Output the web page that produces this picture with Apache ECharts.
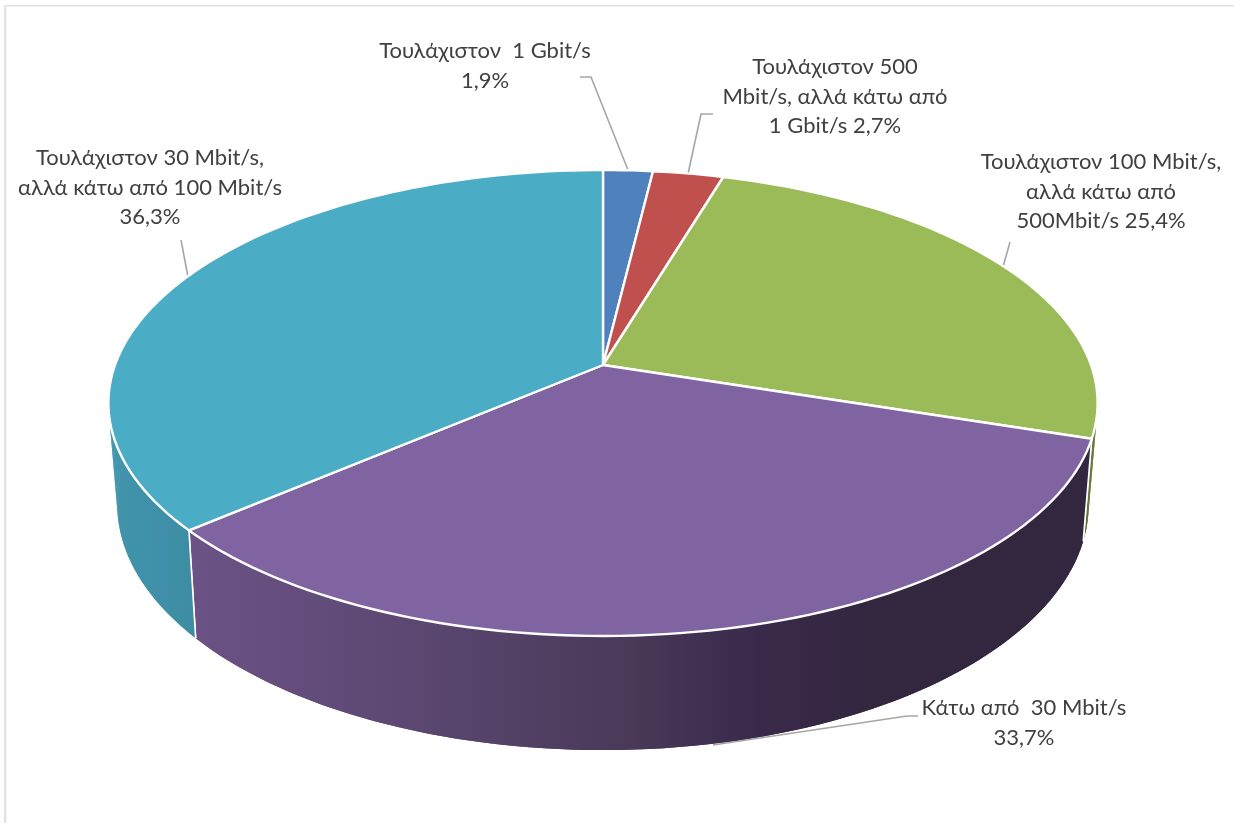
<!DOCTYPE html>
<html><head><meta charset="utf-8">
<style>html,body{margin:0;padding:0;background:#fff}#c{width:1234px;height:823px}</style>
<script src="https://cdn.jsdelivr.net/npm/echarts@6/dist/echarts.min.js"></script>
</head><body><div id="c"></div>
<script>
const categories = [
  'Τουλάχιστον  1 Gbit/s',
  'Τουλάχιστον 500\nMbit/s, αλλά κάτω από\n1 Gbit/s',
  'Τουλάχιστον 100 Mbit/s,\nαλλά κάτω από\n500Mbit/s',
  'Κάτω από  30 Mbit/s',
  'Τουλάχιστον 30 Mbit/s,\nαλλά κάτω από 100 Mbit/s'
];
const values = [1.9, 2.7, 25.4, 33.7, 36.3];
const valueSeparators = ['\n', ' ', ' ', '\n', '\n'];

const topColors = ['#4f81bd', '#c0504d', '#9bbb59', '#8064a2', '#4bacc6'];
const sideStops = [
  [[0, '#3b6391'], [1, '#3b6391']],
  [[0, '#92403d'], [1, '#92403d']],
  [[0, '#5f7335'], [1, '#5f7335']],
  [[0, '#6c5286'], [0.235, '#5c4872'], [0.484, '#4a3959'], [0.63, '#39294a'], [0.76, '#32273f'], [1, '#32273f']],
  [[0, '#4195ad'], [1, '#3d8ca4']]
];
const sideGradientRange = [[600, 720], [600, 720], [720, 1100], [187, 1095], [108, 196]];
const labelAnchors = [[485, 51], [835, 67], [1101, 162], [1024, 708], [150, 158]];
const leaders = [
  [[580, 77], [591, 77], [628, 170]],
  [[713, 114], [701, 114], [688, 174]],
  [[1010, 242], [1003, 267]],
  [[918, 716], [907, 716], [713, 745]],
  [[181, 240], [188, 277]]
];
const LINE_H = 29.7;
const FONT = 'Lato, "Open Sans", sans-serif';
const FONT_SIZE = 22;

const top_ = {cx: 603, cy: 365, a: 488, b: 226.8, k: 0.163};
const bot_ = {cx: 603, cy: 463.5, a: 479, b: 239, k: 0.166};
function project(d, deg) {
  const t = deg * Math.PI / 180, u = Math.sin(t), v = -Math.cos(t), w = 1 - d.k * v;
  return [d.cx + d.a * u / w, d.cy + d.b * v / w];
}
function angles(from, to) {
  const n = Math.max(2, Math.ceil(Math.abs(to - from) / 1.5)), out = [];
  for (let i = 0; i <= n; i++) out.push(from + (to - from) * i / n);
  return out;
}
const total = values.reduce((s, v) => s + v, 0);
function span(i) {
  let before = 0;
  for (let j = 0; j < i; j++) before += values[j];
  return [before / total * 360, (before + values[i]) / total * 360];
}
const seriesData = values.map((v, i) => [i, v]);

function renderSide(params) {
  const i = params.dataIndex, s = span(i), r = sideGradientRange[i];
  const fill = new echarts.graphic.LinearGradient(r[0], 0, r[1], 0,
    sideStops[i].map(p => ({offset: p[0], color: p[1]})), true);
  const as = angles(s[0], s[1]), children = [];
  for (let n = 0; n < as.length - 1; n++) {
    children.push({type: 'polygon',
      shape: {points: [project(top_, as[n]), project(top_, as[n + 1]), project(bot_, as[n + 1]), project(bot_, as[n])]},
      style: {fill: fill}});
  }
  children.push({type: 'polygon',
    shape: {points: as.map(a => project(top_, a)).concat(as.slice().reverse().map(a => project(bot_, a)))},
    style: {fill: fill}});
  [s[0], s[1]].forEach(a => children.push({type: 'line',
    shape: {x1: project(top_, a)[0], y1: project(top_, a)[1], x2: project(bot_, a)[0], y2: project(bot_, a)[1]},
    style: {stroke: '#fff', lineWidth: 1.6}}));
  return {type: 'group', children: children, silent: true};
}
function renderTop(params) {
  const i = params.dataIndex, s = span(i);
  const pts = [[top_.cx, top_.cy]].concat(angles(s[0], s[1]).map(a => project(top_, a)));
  return {type: 'polygon', shape: {points: pts}, style: {fill: topColors[i], stroke: '#fff', lineWidth: 2.4, lineJoin: 'round'}, silent: true};
}
function renderLabel(params, api) {
  const i = params.dataIndex;
  const txt = categories[i] + valueSeparators[i] + String(api.value(1)).replace('.', ',') + '%';
  const children = txt.split('\n').map((ln, n) => ({
    type: 'text',
    style: {text: ln, x: labelAnchors[i][0], y: labelAnchors[i][1] + n * LINE_H, align: 'center', verticalAlign: 'middle',
      fill: '#404040', font: FONT_SIZE + 'px ' + FONT}
  }));
  children.push({type: 'polyline', shape: {points: leaders[i]}, style: {fill: 'none', stroke: '#a6a6a6', lineWidth: 1.6}});
  return {type: 'group', children: children, silent: true};
}
const chart = echarts.init(document.getElementById('c'), null, {renderer: 'canvas'});
chart.setOption({
  animation: false,
  backgroundColor: '#ffffff',
  tooltip: {show: false},
  graphic: [
    {type: 'rect', shape: {x: 4, y: 5, width: 2.3, height: 818}, style: {fill: '#e2e2e2'}, silent: true},
    {type: 'rect', shape: {x: 4, y: 5, width: 1230, height: 1.6}, style: {fill: '#e2e2e2'}, silent: true}
  ],
  series: [
    {type: 'custom', coordinateSystem: 'none', z: 0, data: seriesData, renderItem: renderLabel},
    {type: 'custom', coordinateSystem: 'none', z: 1, data: seriesData, renderItem: renderSide},
    {type: 'custom', coordinateSystem: 'none', z: 2, data: seriesData, renderItem: renderTop}
  ]
});
</script></body></html>
